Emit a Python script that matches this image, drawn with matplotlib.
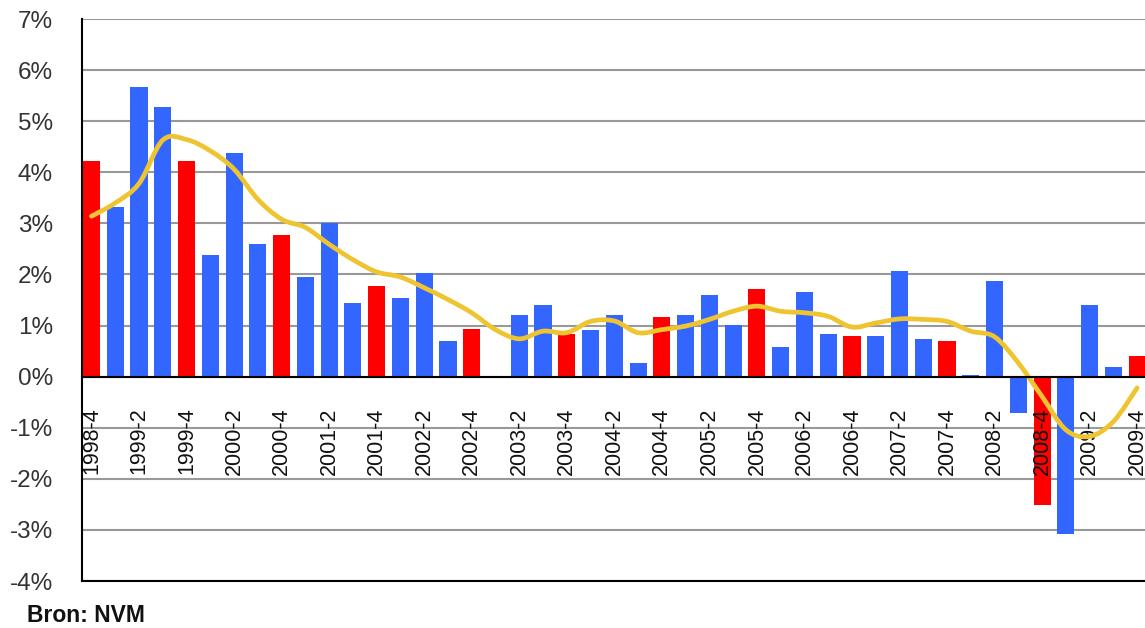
import matplotlib
matplotlib.use("Agg")
import matplotlib.pyplot as plt
from matplotlib.path import Path
from matplotlib.patches import PathPatch
import numpy as np

# ---- data ----
quarters = ["1998-4"] + [f"{y}-{q}" for y in range(1999, 2010) for q in range(1, 5)]
bar_values = [4.22, 3.33, 5.67, 5.27, 4.22, 2.39, 4.37, 2.60, 2.78, 1.95, 3.01, 1.44,
              1.78, 1.53, 2.02, 0.69, 0.94, 0.00, 1.20, 1.41, 0.84, 0.91, 1.20, 0.26,
              1.16, 1.20, 1.59, 1.01, 1.71, 0.58, 1.66, 0.84, 0.79, 0.80, 2.06, 0.73,
              0.69, 0.04, 1.88, -0.71, -2.51, -3.08, 1.41, 0.18, 0.40]
trend_values = [3.14, 3.40, 3.78, 4.63, 4.64, 4.42, 4.06, 3.47, 3.08, 2.92, 2.59, 2.29,
                2.05, 1.95, 1.74, 1.51, 1.25, 0.92, 0.74, 0.89, 0.86, 1.08, 1.09, 0.86,
                0.92, 0.99, 1.12, 1.28, 1.38, 1.28, 1.25, 1.18, 0.97, 1.05, 1.13, 1.12,
                1.08, 0.89, 0.78, 0.27, -0.39, -1.04, -1.17, -0.88, -0.22]
y_ticks = list(range(-4, 8))
source_text = "Bron: NVM"

BLUE = "#3366FF"
RED = "#FF0000"
YELLOW = "#EEC530"
FONT = ["Liberation Sans", "DejaVu Sans"]

W, H = 1145, 628
plt.rcParams["font.family"] = FONT
fig = plt.figure(figsize=(W / 100, H / 100), dpi=100)

left_px, right_px, top_px, bottom_px = 82, 1149, 19, 581
ax = fig.add_axes([left_px / W, 1 - bottom_px / H,
                   (right_px - left_px) / W, (bottom_px - top_px) / H])

x = np.arange(len(quarters))
colors = [RED if q.endswith("-4") else BLUE for q in quarters]
ax.bar(x, bar_values, width=0.72, color=colors, zorder=2)

# smoothed line (Catmull-Rom bezier through the data points, like Excel's smoothed line)
pts = np.column_stack([x, trend_values]).astype(float)
verts = [tuple(pts[0])]
codes = [Path.MOVETO]
n = len(pts)
for i in range(n - 1):
    p0 = pts[i - 1] if i > 0 else pts[i]
    p1 = pts[i]
    p2 = pts[i + 1]
    p3 = pts[i + 2] if i + 2 < n else pts[i + 1]
    c1 = p1 + (p2 - p0) / 6.0
    c2 = p2 - (p3 - p1) / 6.0
    verts += [tuple(c1), tuple(c2), tuple(p2)]
    codes += [Path.CURVE4] * 3
ax.add_patch(PathPatch(Path(verts, codes), facecolor="none", edgecolor=YELLOW,
                       lw=3.4, zorder=3, capstyle="round", joinstyle="round"))

ax.set_xlim(-0.4, 44.5)
ax.set_ylim(-4, 7)

ax.set_yticks(y_ticks)
ax.set_yticklabels([f"{v}%" for v in y_ticks])
ax.yaxis.grid(True, color="#999999", lw=1.5)
ax.set_axisbelow(True)
ax.xaxis.set_zorder(2.5)  # category labels drawn over the bars, under the line

ax.set_xticks(x[::2])
ax.set_xticklabels(quarters[::2])
ax.tick_params(axis="x", length=0, pad=22, labelsize=15.5, labelcolor="#111111",
               labelrotation=90)
ax.tick_params(axis="y", length=0, pad=21, labelsize=17.5, labelcolor="#333333")

for s in ["top", "right"]:
    ax.spines[s].set_visible(False)
ax.spines["left"].set_color("black")
ax.spines["left"].set_linewidth(1.5)
ax.spines["bottom"].set_position(("data", 0))
ax.spines["bottom"].set_color("black")
ax.spines["bottom"].set_linewidth(1.5)
ax.spines["bottom"].set_zorder(4)
ax.axhline(-4, color="black", lw=1.5, clip_on=False, zorder=4)

fig.text(27 / W, 1 - 622 / H, source_text, fontsize=16.5, fontweight="bold",
         color="#111111", ha="left", va="baseline")

fig.savefig("out.png", dpi=100)
